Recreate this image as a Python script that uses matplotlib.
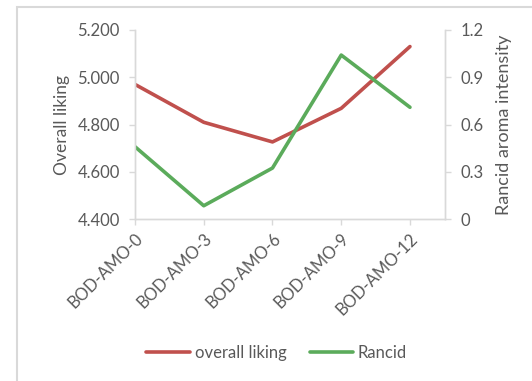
import matplotlib
matplotlib.use("Agg")
import matplotlib.pyplot as plt
from matplotlib.patches import Rectangle

# samples and measured values
samples = ["BOD-AMO-0", "BOD-AMO-3", "BOD-AMO-6", "BOD-AMO-9", "BOD-AMO-12"]
overall_liking = [4.970, 4.810, 4.727, 4.869, 5.130]
rancid = [0.460, 0.086, 0.325, 1.041, 0.710]

liking_ticks = [4.4, 4.6, 4.8, 5.0, 5.2]
rancid_ticks = [0, 0.3, 0.6, 0.9, 1.2]

RED = "#C0504D"
GREEN = "#5BAB5B"
GRID = "#D9D9D9"
TXT = "#595959"

plt.rcParams["font.family"] = ["Lato", "DejaVu Sans"]

fig = plt.figure(figsize=(5.32, 3.81), dpi=100)
ax = fig.add_axes([0.2538, 0.4244, 0.5827, 0.4969])
ax2 = ax.twinx()

x = list(range(len(samples)))
l1, = ax.plot(x, overall_liking, color=RED, lw=2.6, solid_capstyle="round", label="overall liking")
l2, = ax2.plot(x, rancid, color=GREEN, lw=2.6, solid_capstyle="round", label="Rancid")

ax.set_xlim(0, 4.51)
ax.set_ylim(4.4, 5.2)
ax2.set_ylim(0, 1.2)
ax.set_yticks(liking_ticks)
ax.set_yticklabels([f"{v:.3f}" for v in liking_ticks])
ax2.set_yticks(rancid_ticks)
ax2.set_yticklabels([f"{v:g}" for v in rancid_ticks])
ax.set_xticks(x)
ax.set_xticklabels(samples, rotation=45, ha="right", va="top", rotation_mode="anchor")

for a in (ax, ax2):
    for s in a.spines.values():
        s.set_color(GRID)
        s.set_linewidth(1.0)
    a.spines["top"].set_visible(False)
    a.tick_params(colors=TXT, labelsize=12, length=4, width=1.0, color=GRID, pad=7)
ax.tick_params(axis="x", pad=4)

ax.set_ylabel("Overall liking", color=TXT, fontsize=12.5, labelpad=5)
ax2.set_ylabel("Rancid aroma intensity", color=TXT, fontsize=13, labelpad=9)

fig.legend(handles=[l1, l2], loc="center", bbox_to_anchor=(0.52, 0.073), ncol=2,
           frameon=False, fontsize=12, handlelength=2.6, handletextpad=0.3,
           columnspacing=1.4, labelcolor=TXT)

# chart area border
fig.patches.append(Rectangle((17 / 532, -0.1), 1.2, 1 - 7 / 381 + 0.1,
                             transform=fig.transFigure, fill=False,
                             edgecolor=GRID, lw=1.5, clip_on=False))

fig.savefig("out.png", dpi=100)
